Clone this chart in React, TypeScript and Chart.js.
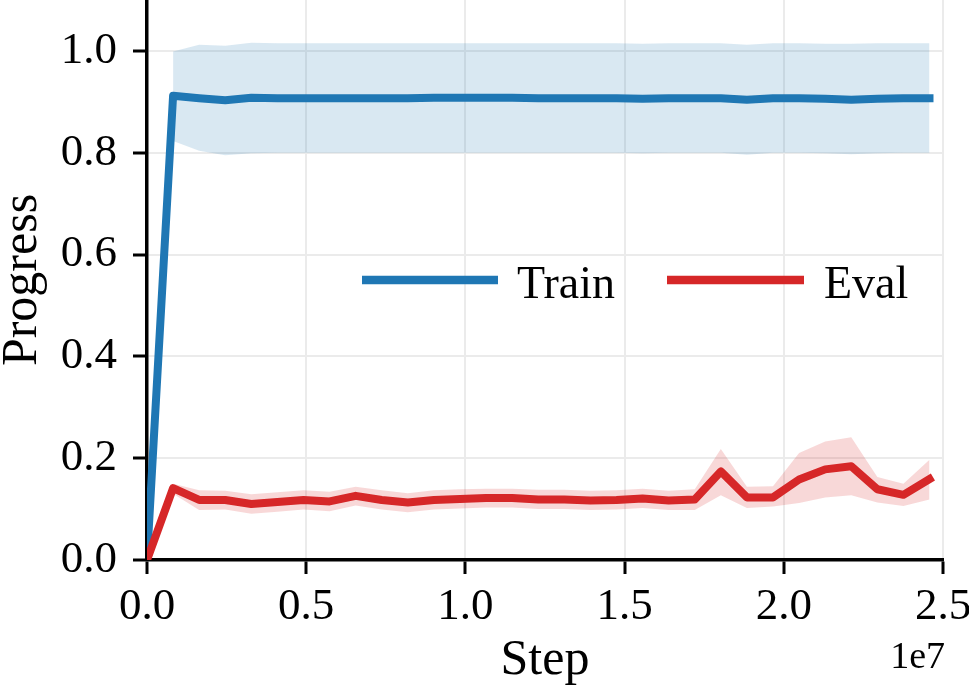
import React, { useEffect, useRef } from "react";
import { Chart, registerables } from "chart.js";

Chart.register(...registerables);

// Training steps at which progress was logged
const STEPS = [
  0, 819200, 1638400, 2457600, 3276800, 4096000, 4915200, 5734400, 6553600,
  7372800, 8192000, 9011200, 9830400, 10649600, 11468800, 12288000, 13107200,
  13926400, 14745600, 15564800, 16384000, 17203200, 18022400, 18841600,
  19660800, 20480000, 21299200, 22118400, 22937600, 23756800, 24576000,
];

// Train progress: mean and spread
const TRAIN_MEAN = [
  0, 0.912, 0.907, 0.903, 0.908, 0.907, 0.907, 0.907, 0.907, 0.907, 0.907,
  0.908, 0.908, 0.908, 0.908, 0.907, 0.907, 0.907, 0.907, 0.906, 0.907, 0.907,
  0.907, 0.904, 0.907, 0.907, 0.906, 0.904, 0.906, 0.907, 0.907,
];
const TRAIN_UPPER = [
  null, 0.999, 1.012, 1.01, 1.016, 1.015, 1.015, 1.015, 1.015, 1.015, 1.015,
  1.015, 1.015, 1.015, 1.015, 1.015, 1.015, 1.015, 1.015, 1.014, 1.015, 1.015,
  1.015, 1.012, 1.015, 1.015, 1.014, 1.014, 1.015, 1.015, 1.015,
];
const TRAIN_LOWER = [
  null, 0.823, 0.804, 0.795, 0.799, 0.8, 0.8, 0.8, 0.8, 0.8, 0.8, 0.8, 0.8,
  0.8, 0.8, 0.8, 0.8, 0.8, 0.8, 0.799, 0.8, 0.8, 0.8, 0.796, 0.8, 0.8, 0.799,
  0.797, 0.799, 0.8, 0.8,
];

// Eval progress: mean and spread
const EVAL_MEAN = [
  0, 0.141, 0.118, 0.118, 0.11, 0.114, 0.118, 0.115, 0.126, 0.118, 0.113,
  0.118, 0.12, 0.122, 0.122, 0.119, 0.119, 0.117, 0.118, 0.121, 0.117, 0.119,
  0.174, 0.123, 0.123, 0.158, 0.178, 0.184, 0.139, 0.128, 0.159,
];
const EVAL_UPPER = [
  null, 0.15, 0.137, 0.136, 0.129, 0.133, 0.137, 0.134, 0.144, 0.137, 0.131,
  0.137, 0.139, 0.14, 0.14, 0.138, 0.138, 0.136, 0.137, 0.14, 0.136, 0.139,
  0.218, 0.144, 0.145, 0.21, 0.233, 0.241, 0.163, 0.15, 0.197,
];
const EVAL_LOWER = [
  null, 0.13, 0.098, 0.099, 0.091, 0.095, 0.099, 0.096, 0.107, 0.099, 0.094,
  0.099, 0.101, 0.103, 0.103, 0.1, 0.1, 0.098, 0.099, 0.102, 0.098, 0.098,
  0.127, 0.102, 0.105, 0.112, 0.123, 0.127, 0.113, 0.106, 0.119,
];

const X_TICKS = [0, 5e6, 1e7, 1.5e7, 2e7, 2.5e7];
const Y_TICKS = [0, 0.2, 0.4, 0.6, 0.8, 1.0];
const LEGEND_LABELS = ["Train", "Eval"];
const X_TITLE = "Step";
const Y_TITLE = "Progress";
const X_OFFSET_TEXT = "1e7";

const BLUE = "#1f77b4";
const RED = "#d62728";
const BLUE_BAND = "rgba(31,119,180,0.17)";
const RED_BAND = "rgba(214,39,40,0.18)";
const FONT = "'Liberation Serif', 'Times New Roman', serif";

const pts = (ys: (number | null)[]) => STEPS.map((x, i) => ({ x, y: ys[i] }));

const overlayPlugin = {
  id: "overlayText",
  afterDraw(chart: any) {
    const ctx = chart.ctx;
    ctx.save();
    // scale multiplier text under the x axis
    ctx.fillStyle = "#000";
    ctx.font = `38px ${FONT}`;
    ctx.textAlign = "right";
    ctx.textBaseline = "alphabetic";
    ctx.fillText(X_OFFSET_TEXT, 945, 668);

    // legend inside the plot
    const entries = [
      { label: LEGEND_LABELS[0], color: BLUE, x0: 362, x1: 498, tx: 517 },
      { label: LEGEND_LABELS[1], color: RED, x0: 667, x1: 804, tx: 824 },
    ];
    ctx.font = `46px ${FONT}`;
    ctx.textAlign = "left";
    for (const e of entries) {
      ctx.strokeStyle = e.color;
      ctx.lineWidth = 8.5;
      ctx.lineCap = "butt";
      ctx.beginPath();
      ctx.moveTo(e.x0, 280);
      ctx.lineTo(e.x1, 280);
      ctx.stroke();
      ctx.fillStyle = "#000";
      ctx.fillText(e.label, e.tx, 298);
    }
    ctx.restore();
  },
};

export default function App() {
  const ref = useRef<HTMLCanvasElement | null>(null);

  useEffect(() => {
    const canvas = ref.current;
    if (!canvas) return;
    const lineCommon = {
      borderWidth: 8,
      pointRadius: 0,
      tension: 0,
      borderJoinStyle: "round" as const,
      borderCapStyle: "square" as const,
      fill: false,
    };
    const bandCommon = {
      borderWidth: 0,
      pointRadius: 0,
      tension: 0,
      borderColor: "rgba(0,0,0,0)",
    };
    const chart = new Chart(canvas, {
      type: "line",
      data: {
        datasets: [
          { ...lineCommon, label: LEGEND_LABELS[1], data: pts(EVAL_MEAN), borderColor: RED },
          { ...lineCommon, label: LEGEND_LABELS[0], data: pts(TRAIN_MEAN), borderColor: BLUE },
          { ...bandCommon, label: "train-upper", data: pts(TRAIN_UPPER), fill: false },
          { ...bandCommon, label: "train-lower", data: pts(TRAIN_LOWER), fill: "-1", backgroundColor: BLUE_BAND },
          { ...bandCommon, label: "eval-upper", data: pts(EVAL_UPPER), fill: false },
          { ...bandCommon, label: "eval-lower", data: pts(EVAL_LOWER), fill: "-1", backgroundColor: RED_BAND },
        ],
      },
      options: {
        responsive: false,
        animation: false,
        parsing: false,
        normalized: true,
        layout: { padding: { left: 0, right: 26, top: 0, bottom: 0 } },
        plugins: {
          legend: { display: false },
          tooltip: { enabled: false },
          filler: { propagate: false },
        },
        scales: {
          x: {
            type: "linear",
            min: 0,
            max: 2.5e7,
            afterBuildTicks: (s: any) => {
              s.ticks = X_TICKS.map((v) => ({ value: v }));
            },
            afterFit: (s: any) => {
              s.height = 132;
              s.paddingLeft = 0;
              s.paddingRight = 0;
            },
            ticks: {
              callback: (v: any) => (Number(v) / 1e7).toFixed(1),
              font: { family: FONT, size: 45 },
              color: "#000",
              padding: 6,
              maxRotation: 0,
            },
            grid: {
              color: "#ebebeb",
              lineWidth: 2,
              tickColor: "#000",
              tickLength: 14,
              tickWidth: 3,
            },
            border: { color: "#000", width: 3.5 },
            title: {
              display: true,
              text: X_TITLE,
              font: { family: FONT, size: 50, lineHeight: 1 },
              color: "#000",
              padding: { top: 0, bottom: 6 },
            },
          },
          y: {
            type: "linear",
            min: 0,
            max: 1.1,
            afterBuildTicks: (s: any) => {
              s.ticks = Y_TICKS.map((v) => ({ value: v }));
            },
            afterFit: (s: any) => {
              s.width = 147;
              s.paddingTop = 0;
              s.paddingBottom = 0;
            },
            ticks: {
              callback: (v: any) => Number(v).toFixed(1),
              font: { family: FONT, size: 45 },
              color: "#000",
              padding: 16,
            },
            grid: {
              color: "#ebebeb",
              lineWidth: 2,
              tickColor: "#000",
              tickLength: 14,
              tickWidth: 3,
            },
            border: { color: "#000", width: 3.5 },
            title: {
              display: true,
              text: Y_TITLE,
              font: { family: FONT, size: 50, lineHeight: 0.9 },
              color: "#000",
              padding: 0,
            },
          },
        },
      },
      plugins: [overlayPlugin],
    });
    return () => chart.destroy();
  }, []);

  return (
    <div style={{ position: "fixed", left: 0, top: 0, width: 969, height: 692, background: "#fff" }}>
      <canvas ref={ref} width={969} height={692} style={{ display: "block" }} />
    </div>
  );
}
